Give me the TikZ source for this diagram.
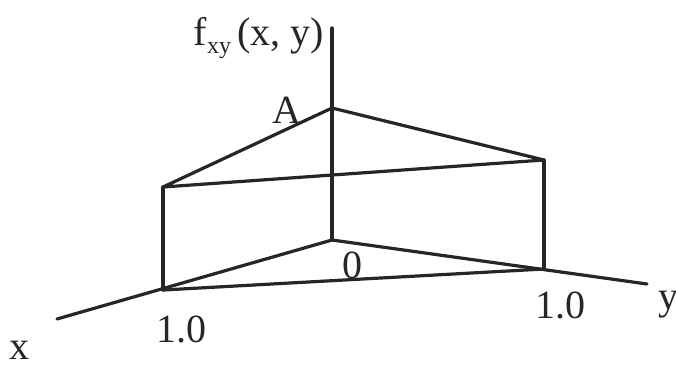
\documentclass[tikz,border=0pt]{standalone}
\usepackage{fontspec}
\setmainfont{Liberation Serif}
\usetikzlibrary{positioning}

\begin{document}
\begin{tikzpicture}[
  x=0.5pt,y=-0.5pt,
  edge/.style={line width=1.6pt,black!85,line cap=round,line join=round},
  lbl/.style={font=\fontsize{20}{24}\selectfont,inner sep=0pt,text=black!85}
]
\useasboundingbox (0,0) rectangle (676,366);
% axes
\coordinate (origin) at (332,240);
\coordinate (ztop) at (332,28);
\coordinate (xend) at (57,319);
\coordinate (yend) at (647,284);
% wedge corners
\coordinate (apex) at (332,108);
\coordinate (xtop) at (163,187);
\coordinate (ytop) at (544,160);
\coordinate (xone) at (163,290);
\coordinate (yone) at (544,269);
\draw[edge] (origin) -- (ztop);
\draw[edge] (origin) -- (xend);
\draw[edge] (origin) -- (yend);
\draw[edge] (xtop) -- (apex) -- (ytop) -- cycle;
\draw[edge] (xtop) -- (xone);
\draw[edge] (ytop) -- (yone);
\draw[edge] (xone) -- (yone);
% labels
\node[lbl] (fname) at (259,38) {f{\fontsize{12}{12}\selectfont\raisebox{-0.7ex}{xy}}\,(x, y)};
\node[lbl] (alabel) at (287,110) {A};
\node[lbl] (zero) at (352,265) {0};
\node[lbl] (xunit) at (181,329) {1.0};
\node[lbl] (yunit) at (560,305) {1.0};
\node[lbl] (xlabel) at (20,350) {x};
\node[lbl] (ylabel) at (668,305) {y};
\end{tikzpicture}
\end{document}
